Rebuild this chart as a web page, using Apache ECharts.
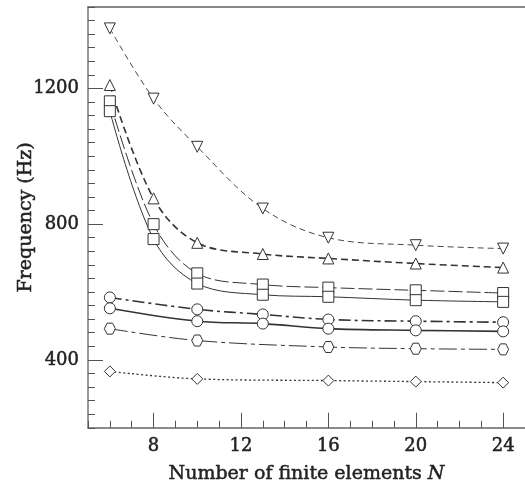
<!DOCTYPE html>
<html>
<head>
<meta charset="utf-8">
<style>
  html, body { margin: 0; padding: 0; background: #fff; }
  #chart { width: 525px; height: 489px; }
</style>
<script src="https://cdn.jsdelivr.net/npm/echarts@6/dist/echarts.min.js"></script>
</head>
<body>
<div id="chart"></div>
<script>
// Element counts at which each family of curves was evaluated
const nAll = [6, 8, 10, 13, 16, 20, 24];
const nCircle = [6, 10, 13, 16, 20, 24];
const nSparse = [6, 10, 16, 20, 24];

// Natural frequencies (Hz)
const triDownVals = [1377, 1170, 1028, 846, 760, 738, 728];
const triUpVals = [1210, 876, 745, 712, 699, 684, 672];
const squareDashVals = [1162, 800, 655, 622, 613, 605, 597];
const squareSolidVals = [1133, 756, 625, 592, 586, 576, 571];
const circleDashDotVals = [584, 549, 534, 519, 514, 511];
const circleSolidVals = [552, 514, 507, 492, 487, 484];
const hexagonVals = [492, 457, 438, 433, 431];
const diamondVals = [366, 344, 339, 336, 333];

// Axis tick labels
const xLabelValues = [8, 12, 16, 20, 24];
const yLabelValues = [400, 800, 1200];

const zip = (xs, ys) => xs.map((x, i) => [x, ys[i]]);

const FONT = 'DejaVu Serif';
const INK = '#222';
const LINE = '#333';
const hexagon = 'path://M-10,0 L-5,-8.66 L5,-8.66 L10,0 L5,8.66 L-5,8.66 Z';

// a faint outline of the glyphs gives the text a slightly heavier weight
const heavy = { textBorderColor: INK, textBorderWidth: 0.5 };

function curve(data, symbol, dash, width, extra) {
  return Object.assign({
    type: 'line',
    data: data,
    symbol: symbol,
    symbolSize: 11,
    smooth: 0.35,
    z: 3,
    lineStyle: { color: LINE, width: width, type: dash },
    itemStyle: { color: '#fff', borderColor: LINE, borderWidth: 1 },
    emphasis: { disabled: true }
  }, extra || {});
}

const xScale = { type: 'value', min: 5, max: 25, gridIndex: 0 };
const yScale = { type: 'value', min: 200, max: 1440, gridIndex: 0 };

const option = {
  animation: false,
  backgroundColor: '#fff',
  textStyle: { fontFamily: FONT, color: INK },
  grid: { left: 88, right: -5, top: 7, bottom: 61, containLabel: false },
  xAxis: [
    Object.assign({}, xScale, {
      position: 'bottom', offset: 0, interval: 1,
      axisLine: { show: true, lineStyle: { color: '#666', width: 1.5 } },
      axisTick: { show: true, inside: true, length: 7, lineStyle: { color: '#555', width: 1 } },
      axisLabel: { show: false },
      splitLine: { show: false },
      name: 'Number of finite elements {i|N}',
      nameLocation: 'middle',
      nameGap: 37,
      nameTextStyle: Object.assign({
        fontFamily: FONT, fontSize: 19, color: INK,
        rich: { i: Object.assign({ fontFamily: FONT, fontSize: 19, fontStyle: 'italic', color: INK }, heavy) }
      }, heavy)
    }),
    Object.assign({}, xScale, {
      position: 'bottom', offset: 0,
      axisLine: { show: false },
      axisTick: { show: true, inside: true, length: 15, customValues: xLabelValues, lineStyle: { color: '#555', width: 1 } },
      axisLabel: Object.assign({ show: true, customValues: xLabelValues, margin: 10, fontFamily: FONT, fontSize: 18, color: INK, formatter: v => String(v) }, heavy),
      splitLine: { show: false }
    }),
    Object.assign({}, xScale, {
      position: 'top', offset: 0,
      axisLine: { show: true, lineStyle: { color: '#888', width: 2 } },
      axisTick: { show: false },
      axisLabel: { show: false },
      splitLine: { show: false }
    })
  ],
  yAxis: [
    Object.assign({}, yScale, {
      position: 'left', offset: 0, interval: 40,
      axisLine: { show: true, lineStyle: { color: '#777', width: 1.5 } },
      axisTick: { show: true, inside: true, length: 7, lineStyle: { color: '#555', width: 1 } },
      axisLabel: { show: false },
      splitLine: { show: false },
      name: 'Frequency (Hz)',
      nameLocation: 'middle',
      nameGap: 52,
      nameTextStyle: Object.assign({ fontFamily: FONT, fontSize: 19, color: INK }, heavy)
    }),
    Object.assign({}, yScale, {
      position: 'left', offset: 0,
      axisLine: { show: false },
      axisTick: { show: true, inside: true, length: 15, customValues: yLabelValues, lineStyle: { color: '#555', width: 1 } },
      axisLabel: Object.assign({ show: true, customValues: yLabelValues, margin: 9, fontFamily: FONT, fontSize: 18, color: INK, formatter: v => String(v) }, heavy),
      splitLine: { show: false }
    })
  ],
  series: [
    curve(zip(nAll, triDownVals), 'triangle', [6, 4], 0.9, { symbolRotate: 180 }),
    curve(zip(nAll, triUpVals), 'triangle', [7, 4], 1.6),
    curve(zip(nAll, squareDashVals), 'rect', [14, 4], 1),
    curve(zip(nAll, squareSolidVals), 'rect', 'solid', 1),
    curve(zip(nCircle, circleDashDotVals), 'circle', [12, 4, 3, 4], 1.6),
    curve(zip(nCircle, circleSolidVals), 'circle', 'solid', 1.6),
    curve(zip(nSparse, hexagonVals), hexagon, [18, 4, 4, 4], 1),
    curve(zip(nSparse, diamondVals), 'diamond', [2, 2.5], 1.3)
  ]
};

const chart = echarts.init(document.getElementById('chart'), null, { renderer: 'canvas' });
chart.setOption(option);
</script>
</body>
</html>
